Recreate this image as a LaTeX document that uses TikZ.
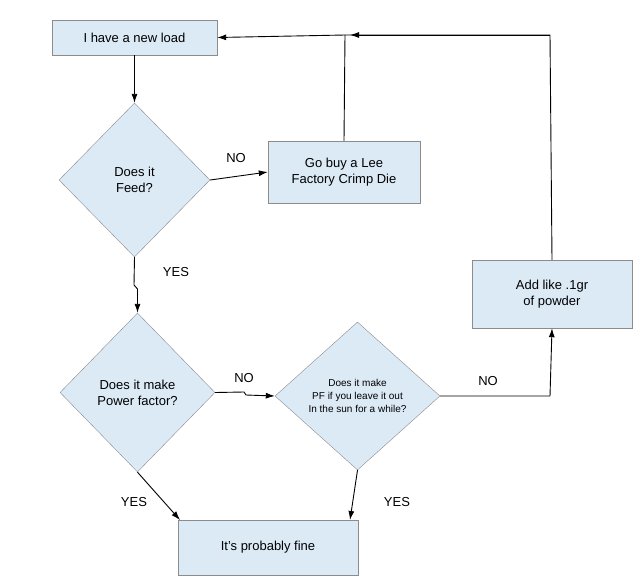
\documentclass[tikz,border=0pt]{standalone}
\usepackage{fontspec}
\setmainfont{Liberation Sans}
\usetikzlibrary{shapes.geometric,arrows.meta}
\definecolor{fillb}{HTML}{DCEAF6}
\definecolor{edgeg}{HTML}{8C8C8C}
\begin{document}
\begin{tikzpicture}[x=1pt,y=-1pt,
  box/.style={draw=edgeg,fill=fillb,align=center,font=\fontsize{13}{16}\selectfont,inner sep=2pt},
  dia/.style={draw=edgeg,fill=fillb,diamond,align=center,font=\fontsize{13}{16}\selectfont,inner sep=0pt},
  arr/.style={-{Latex[length=9pt,width=6pt]},line width=0.9pt},
  ln/.style={line width=0.9pt},
  lab/.style={font=\fontsize{13}{16}\selectfont}]
\useasboundingbox (0,0) rectangle (640,581);
\node[box,minimum width=165pt,minimum height=35pt] (load) at (134.5,37.5) {I have a new load};
\node[dia,minimum width=151pt,minimum height=154pt] (feed) at (134.5,180) {Does it\\Feed?};
\node[box,minimum width=152pt,minimum height=62pt] (lee) at (344,172) {Go buy a Lee\\Factory Crimp Die};
\node[box,minimum width=160pt,minimum height=68pt] (add) at (552,294) {Add like .1gr\\of powder};
\node[dia,minimum width=155pt,minimum height=159pt] (pf) at (137.5,392.5) {Does it make\\Power factor?};
\node[dia,minimum width=165pt,minimum height=148pt,font=\fontsize{10}{13}\selectfont] (sun) at (357.5,396) {Does it make\\PF if you leave it out\\In the sun for a while?};
\node[box,minimum width=180pt,minimum height=55pt] (fine) at (268,547.5) {It's probably fine};
\coordinate (top) at (345,35);
\draw[arr] (load.south) -- (feed.north);
\draw[arr] (feed.east) -- (lee.west);
\node[lab] at (236,158) {NO};
\draw[ln] (lee.north) -- (top);
\draw[ln] (add.north) -- (550,35) -- (top);
\draw[arr] (550,35) -- (350,35);
\draw[arr] (top) -- (load.east);
\draw[arr] (feed.south) -- (134,285) -- (137.5,289) -- (pf.north);
\node[lab] at (176,272) {YES};
\draw[arr] (pf.east) -- (244,392) -- (246,395) -- (sun.west);
\node[lab] at (244,378) {NO};
\draw[arr] (sun.east) -- (550,396) -- (add.south);
\node[lab] at (488,381) {NO};
\draw[arr] (pf.south) -- (180,520);
\node[lab] at (134,502) {YES};
\draw[arr] (sun.south) -- (350,520);
\node[lab] at (397,502) {YES};
\end{tikzpicture}
\end{document}
